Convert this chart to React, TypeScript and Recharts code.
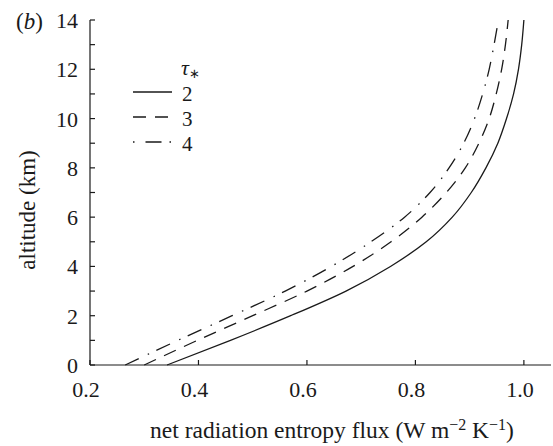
import { LineChart, Line, XAxis, YAxis, Legend } from 'recharts'

// altitude (km) and net radiation entropy flux for each optical depth
const altitude = [0, 1, 2, 3, 4, 5, 6, 7, 8, 9, 10, 11, 12, 13, 14]
const tau2 = [0.342, 0.459, 0.57, 0.672, 0.754, 0.82, 0.868, 0.903, 0.93, 0.952, 0.968, 0.981, 0.99, 0.996, 1.0]
const tau3 = [0.3, 0.398, 0.5, 0.6, 0.685, 0.755, 0.812, 0.857, 0.892, 0.917, 0.936, 0.949, 0.959, 0.966, 0.971]
const tau4 = [0.265, 0.362, 0.462, 0.56, 0.645, 0.718, 0.78, 0.827, 0.862, 0.889, 0.909, 0.924, 0.936, 0.945, 0.953]

const xTicks = [0.2, 0.4, 0.6, 0.8, 1.0]
const yTicks = [0, 1, 2, 3, 4, 5, 6, 7, 8, 9, 10, 11, 12, 13, 14]

const legendItems = [
  { label: '2', dash: undefined },
  { label: '3', dash: '13 9' },
  { label: '4', dash: '1.5 11 16 8' },
]

const data = altitude.map((alt, i) => ({ alt, tau2: tau2[i], tau3: tau3[i], tau4: tau4[i] }))

const INK = '#1a1a1a'
const FONT = "'Liberation Serif', 'Times New Roman', Times, serif"
const txt = { fontFamily: FONT }

function YTick(props: any) {
  const { x, y, payload } = props
  const v = payload.value
  return (
    <g>
      <line x1={x} y1={y} x2={x + 5} y2={y} stroke={INK} strokeWidth={1.2} />
      {v % 2 === 0 && (
        <text x={x - 12} y={y + 8} textAnchor="end" fontSize={22} fill={INK} style={txt}>
          {v}
        </text>
      )}
    </g>
  )
}

function XTick(props: any) {
  const { x, y, payload } = props
  return (
    <g>
      <line x1={x} y1={y} x2={x} y2={y - 5} stroke={INK} strokeWidth={1.2} />
      <text x={x - 4} y={y + 32} textAnchor="middle" fontSize={22} fill={INK} style={txt}>
        {payload.value.toFixed(1)}
      </text>
    </g>
  )
}

function TauLegend() {
  return (
    <svg width={90} height={105} style={{ display: 'block' }}>
      <text x={56} y={20} fontSize={22} fill={INK} fontStyle="italic" style={txt}>
        τ<tspan fontSize={13} fontStyle="normal" dy={3}>∗</tspan>
      </text>
      {legendItems.map((it, i) => (
        <g key={it.label}>
          <line x1={8} x2={47} y1={37 + i * 25} y2={37 + i * 25} stroke={INK} strokeWidth={1.4} strokeDasharray={it.dash} />
          <text x={57} y={46 + i * 25} fontSize={21} fill={INK} style={txt}>
            {it.label}
          </text>
        </g>
      ))}
    </svg>
  )
}

export default function App() {
  return (
    <div style={{ position: 'absolute', left: 0, top: 0, background: '#fff' }}>
      <LineChart
        width={553}
        height={446}
        data={data}
        layout="vertical"
        margin={{ top: 20, right: 2, bottom: 0, left: 0 }}
      >
        <XAxis
          type="number"
          domain={[0.2, 1.05]}
          ticks={xTicks}
          allowDataOverflow
          height={81}
          tickSize={0}
          tickMargin={0}
          tick={<XTick />}
          stroke={INK}
          strokeWidth={1.2}
        />
        <YAxis
          type="number"
          dataKey="alt"
          domain={[0, 14]}
          ticks={yTicks}
          reversed
          width={90}
          tickSize={0}
          tickMargin={0}
          tick={<YTick />}
          stroke={INK}
          strokeWidth={1.2}
          interval={0}
        />
        <Legend
          layout="horizontal"
          verticalAlign="middle"
          align="center"
          content={<TauLegend />}
          wrapperStyle={{ left: 125, top: 55, width: 90 }}
        />
        <Line dataKey="tau2" type="monotone" stroke={INK} strokeWidth={1.3} dot={false} isAnimationActive={false} />
        <Line dataKey="tau3" type="monotone" stroke={INK} strokeWidth={1.3} strokeDasharray="13 9" dot={false} isAnimationActive={false} />
        <Line dataKey="tau4" type="monotone" stroke={INK} strokeWidth={1.3} strokeDasharray="15 10 1.5 8" dot={false} isAnimationActive={false} />
        <text x={16} y={29} fontSize={23} fill={INK} style={txt}>
          (<tspan fontStyle="italic">b</tspan>)
        </text>
        <text
          x={35}
          y={210}
          transform="rotate(-90 35 210)"
          textAnchor="middle"
          fontSize={23}
          fill={INK}
          style={txt}
        >
          altitude (km)
        </text>
        <text x={332} y={438} textAnchor="middle" fontSize={23.5} fill={INK} style={txt}>
          net radiation entropy flux (W m
          <tspan fontSize={16} dy={-8}>−2</tspan>
          <tspan dy={8}> K</tspan>
          <tspan fontSize={16} dy={-8}>−1</tspan>
          <tspan dy={8}>)</tspan>
        </text>
      </LineChart>
    </div>
  )
}
